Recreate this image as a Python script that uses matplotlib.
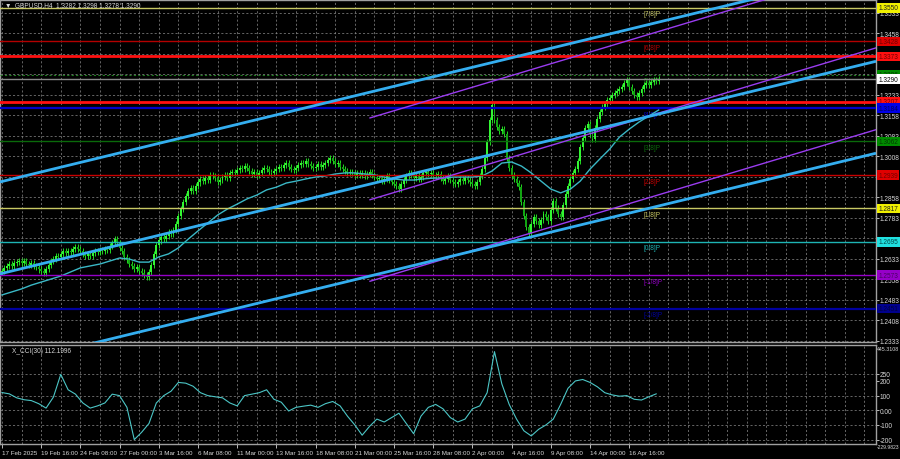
import numpy as np
import matplotlib.pyplot as plt

plt.rcParams['font.family'] = ['Liberation Sans', 'DejaVu Sans']

# GBPUSD H4 closes, 17 Feb 2025 -> 17 Apr 2025 (one row = 16 bars)
closes = [
    1.2590, 1.2598, 1.2605, 1.2614, 1.2608, 1.2618, 1.2622, 1.2626, 1.2619, 1.2624, 1.2615, 1.2610, 1.2616, 1.2606, 1.2603, 1.2594,
    1.2588, 1.2580, 1.2597, 1.2612, 1.2626, 1.2634, 1.2645, 1.2640, 1.2652, 1.2660, 1.2655, 1.2663, 1.2658, 1.2668, 1.2676, 1.2670,
    1.2660, 1.2652, 1.2645, 1.2650, 1.2642, 1.2655, 1.2662, 1.2658, 1.2667, 1.2660, 1.2670, 1.2665, 1.2680, 1.2692, 1.2705, 1.2690,
    1.2672, 1.2660, 1.2640, 1.2628, 1.2615, 1.2608, 1.2596, 1.2602, 1.2590, 1.2583, 1.2575, 1.2568, 1.2585, 1.2610, 1.2650, 1.2685,
    1.2700, 1.2712, 1.2705, 1.2718, 1.2730, 1.2725, 1.2738, 1.2760, 1.2790, 1.2815, 1.2840, 1.2862, 1.2880, 1.2892, 1.2880, 1.2900,
    1.2912, 1.2925, 1.2918, 1.2930, 1.2922, 1.2940, 1.2935, 1.2928, 1.2915, 1.2920, 1.2932, 1.2940, 1.2930, 1.2945, 1.2952, 1.2948,
    1.2958, 1.2965, 1.2960, 1.2972, 1.2966, 1.2955, 1.2942, 1.2950, 1.2938, 1.2945, 1.2958, 1.2965, 1.2960, 1.2952, 1.2948, 1.2955,
    1.2962, 1.2970, 1.2965, 1.2975, 1.2982, 1.2970, 1.2962, 1.2958, 1.2966, 1.2975, 1.2985, 1.2978, 1.2990, 1.2980, 1.2972, 1.2965,
    1.2970, 1.2978, 1.2968, 1.2975, 1.2985, 1.2995, 1.3002, 1.2990, 1.2978, 1.2985, 1.2970, 1.2962, 1.2955, 1.2948, 1.2952, 1.2945,
    1.2940, 1.2948, 1.2938, 1.2945, 1.2935, 1.2942, 1.2950, 1.2940, 1.2932, 1.2925, 1.2930, 1.2918, 1.2926, 1.2935, 1.2922, 1.2915,
    1.2905, 1.2898, 1.2890, 1.2905, 1.2920, 1.2935, 1.2945, 1.2940, 1.2930, 1.2938, 1.2925, 1.2932, 1.2945, 1.2950, 1.2942, 1.2948,
    1.2940, 1.2935, 1.2942, 1.2930, 1.2918, 1.2925, 1.2935, 1.2920, 1.2912, 1.2905, 1.2915, 1.2925, 1.2918, 1.2930, 1.2922, 1.2912,
    1.2905, 1.2900, 1.2915, 1.2935, 1.2960, 1.3000, 1.3060, 1.3140, 1.3195, 1.3140, 1.3115, 1.3100, 1.3108, 1.3090, 1.3000, 1.2965,
    1.2940, 1.2925, 1.2910, 1.2895, 1.2840, 1.2790, 1.2750, 1.2728, 1.2760, 1.2785, 1.2770, 1.2755, 1.2775, 1.2798, 1.2785, 1.2770,
    1.2810, 1.2845, 1.2820, 1.2798, 1.2785, 1.2830, 1.2870, 1.2900, 1.2925, 1.2945, 1.2960, 1.2990, 1.3040, 1.3075, 1.3110, 1.3125,
    1.3090, 1.3070, 1.3110, 1.3145, 1.3170, 1.3188, 1.3200, 1.3212, 1.3220, 1.3230, 1.3238, 1.3245, 1.3255, 1.3262, 1.3275, 1.3285,
    1.3260, 1.3245, 1.3232, 1.3225, 1.3240, 1.3255, 1.3268, 1.3275, 1.3270, 1.3280, 1.3285, 1.3282, 1.3290,
]
first_open = 1.2585

# moving average, read every 4 bars
ma_step = 4
ma_vals = [
    1.2501, 1.2512, 1.2523, 1.2537, 1.2548, 1.2559, 1.2570, 1.2585, 1.2600, 1.2607, 1.2614, 1.2625,
    1.2636, 1.2632, 1.2621, 1.2621, 1.2640, 1.2651, 1.2673, 1.2705, 1.2735, 1.2764, 1.2793, 1.2815,
    1.2833, 1.2852, 1.2866, 1.2885, 1.2895, 1.2910, 1.2917, 1.2925, 1.2932, 1.2936, 1.2943, 1.2947,
    1.2947, 1.2943, 1.2940, 1.2932, 1.2925, 1.2921, 1.2921, 1.2925, 1.2928, 1.2928, 1.2932, 1.2932,
    1.2932, 1.2936, 1.2954, 1.2983, 1.2987, 1.2972, 1.2947, 1.2917, 1.2888, 1.2874, 1.2888, 1.2917,
    1.2961, 1.2998, 1.3034, 1.3078, 1.3107, 1.3133, 1.3155, 1.3177,
]

# X_CCI(30), read every 3 bars
cci_step = 3
cci_vals = [
    121, 112, 85, 72, 66, 45, 15, 90, 245, 140, 110, 50, 15, 30, 50, 110, 100, 20, -200, -150,
    -90, 50, 100, 130, 190, 185, 164, 120, 100, 92, 85, 50, 30, 100, 110, 120, 140, 75, 55, -5,
    20, 28, 35, 20, 45, 60, 30, -40, -100, -170, -110, -60, -80, -50, -20, -90, -160, -40, 20, 40,
    10, -50, -80, -60, 10, 30, 120, 400, 180, 40, -60, -140, -175, -130, -100, -60, 40, 150, 200, 210,
    190, 160, 120, 105, 96, 100, 75, 70, 92, 112,
]

# regression channels: price at left edge / right edge of the chart
chan_bars = [-0.8, 356.7]
cyan_upper = [1.2914, 1.3691]
cyan_mid = [1.2578, 1.3355]
cyan_lower = [1.2242, 1.3019]
purple_bars = [150.2, 356.7]
purple_upper = [1.3148, 1.3702]
purple_mid = [1.2849, 1.3404]
purple_lower = [1.2551, 1.3105]

# Murray levels
murray_names = ['[7/8]P', '[6/8]P', '[5/8]P', '[4/8]P', '[3/8]P', '[2/8]P', '[1/8]P', '[0/8]P', '[-1/8]P', '[-2/8]P']
murray_levels = [1.3550, 1.3428, 1.3306, 1.3184, 1.3062, 1.2939, 1.2817, 1.2695, 1.2573, 1.2451]
murray_colors = ['#c8c864', '#b40000', '#1e7a1e', '#0000c8', '#0a6a0a', '#c80000', '#c8c864', '#1eb4b4', '#9600c8', '#0000a0']
murray_widths = [1.0, 1.0, 0.8, 1.6, 1.0, 1.0, 1.0, 1.0, 1.0, 1.6]
support_levels = [1.3373, 1.3207]
current_price = 1.3290

price_ticks = [1.3533, 1.3458, 1.3383, 1.3308, 1.3233, 1.3158, 1.3083, 1.3008, 1.2933,
               1.2858, 1.2783, 1.2708, 1.2633, 1.2558, 1.2483, 1.2408, 1.2333]
time_labels = ['17 Feb 2025', '19 Feb 16:00', '24 Feb 08:00', '27 Feb 00:00', '3 Mar 16:00',
               '6 Mar 08:00', '11 Mar 00:00', '13 Mar 16:00', '18 Mar 08:00', '21 Mar 00:00',
               '25 Mar 16:00', '28 Mar 08:00', '2 Apr 00:00', '4 Apr 16:00', '9 Apr 08:00',
               '14 Apr 00:00', '16 Apr 16:00']

# right-hand price boxes
box_prices = [1.3550, 1.3428, 1.3373, 1.3306, 1.3290, 1.3207, 1.3184, 1.3062, 1.2939, 1.2817, 1.2695, 1.2573, 1.2451]
box_colors = ['#f0f000', '#e00000', '#ff1010', '#008c00', '#ffffff', '#ff1010', '#0000e6', '#008c00',
              '#e00000', '#f0f000', '#20e0e0', '#9600c8', '#00008c']
box_text = ['#202020', '#700000', '#700000', '#003a00', '#000000', '#700000', '#00005a', '#003a00',
            '#700000', '#202020', '#004848', '#4a0064', '#000040']

W, H = 900, 460
BG = 'black'
GRID = '#8c8c8c'
TXT = '#d8d8d8'
FS = 4.7
WICK = 0.0011
XMIN, XMAX = -0.8, 356.7
YMIN, YMAX = 1.2329, 1.3579

fig = plt.figure(figsize=(9, 4.6), dpi=100, facecolor=BG)


def px_axes(left, top, right, bottom):
    return fig.add_axes([left / W, 1 - bottom / H, (right - left) / W, (bottom - top) / H])


ax = px_axes(0, 1, 876, 343)
axc = px_axes(0, 346, 876, 445)

for a in (ax, axc):
    a.set_facecolor(BG)
    a.set_xlim(XMIN, XMAX)
    for s in a.spines.values():
        s.set_color('#a0a0a0')
        s.set_linewidth(1.0)
    for b in np.arange(0, XMAX, 8):
        a.axvline(b, color=GRID, lw=0.5, ls=(0, (3, 3)), zorder=0.5)

# ---- main price panel
ax.set_ylim(YMIN, YMAX)
px_per_price = 342 / (YMAX - YMIN)
# tick labels that sit right under a coloured box are hidden, like on the terminal
shown = [p for p in price_ticks if min(abs(p - b) for b in box_prices) * px_per_price > 3.9]
ax.yaxis.tick_right()
ax.set_yticks(price_ticks)
ax.set_yticklabels([f'{p:.4f}' if p in shown else '' for p in price_ticks])
ax.tick_params(axis='y', colors=TXT, labelsize=FS, length=2, pad=0.6, width=0.6)
ax.set_xticks([])
for p in price_ticks:
    ax.axhline(p, color=GRID, lw=0.5, ls=(0, (3, 3)), zorder=0.5)

# candles
c = np.array(closes)
o = np.r_[first_open, c[:-1]]
x = np.arange(len(c))
lo_b = np.minimum(o, c)
hi_b = np.maximum(o, c)
h_b = np.maximum(hi_b - lo_b, 0.00015)
up = c >= o
ax.vlines(x, lo_b - WICK, hi_b + WICK, color='#22d822', lw=0.7, zorder=2)
ax.bar(x[up], h_b[up], bottom=lo_b[up], width=0.8, color='#33f533', lw=0, zorder=2.1)
ax.bar(x[~up], h_b[~up], bottom=lo_b[~up], width=0.8, color='#12a412', lw=0, zorder=2.1)

# moving average
ax.plot(np.arange(len(ma_vals)) * ma_step, ma_vals, color='#3ab8c6', lw=1.0, zorder=3)

# horizontal levels
for name, lev, col, lw in zip(murray_names, murray_levels, murray_colors, murray_widths):
    ls = (0, (2, 2)) if name == '[5/8]P' else '-'
    ax.axhline(lev, color=col, lw=lw, ls=ls, zorder=3)
    ax.text(262, lev - 0.0009, name, color=col, fontsize=FS, va='top', ha='left', zorder=1)
for lev in support_levels:
    ax.axhline(lev, color='#ff1010', lw=2.0, zorder=3.2)
ax.axhline(current_price, color='#8a8a8a', lw=1.0, zorder=3)

# channels
for ys in (cyan_upper, cyan_mid, cyan_lower):
    ax.plot(chan_bars, ys, color='#34aef0', lw=2.0, zorder=4, solid_capstyle='butt')
for ys in (purple_upper, purple_mid, purple_lower):
    ax.plot(purple_bars, ys, color='#9a3cf0', lw=1.0, zorder=3.8)

ytr = ax.get_yaxis_transform()
for p, bc, tc in zip(box_prices, box_colors, box_text):
    ax.text(1.0 + 2.5 / 876, p, f'{p:.4f}', transform=ytr, fontsize=FS, color=tc, va='center', ha='left',
            clip_on=False, zorder=10,
            bbox=dict(boxstyle='square,pad=0.2', fc=bc, ec='none'))

fig.text(5 / W, 1 - 6 / H, '\u25bc  GBPUSD,H4  1.3282 1.3298 1.3278 1.3290', color=TXT, fontsize=FS,
         va='center', ha='left')

# ---- CCI panel
axc.set_ylim(-230, 445.31)
axc.yaxis.tick_right()
cci_ticks = [250, 200, 100, 0, -100, -200]
axc.set_yticks(cci_ticks)
axc.set_yticklabels(['250', '200', '100', '0.00', '-100', '-200'])
axc.tick_params(axis='y', colors=TXT, labelsize=FS, length=2, pad=0.6, width=0.6)
for lv in (250, 100, 0, -100, -200):
    axc.axhline(lv, color=GRID, lw=0.5, ls=(0, (3, 3)), zorder=0.5)
axc.plot(np.arange(len(cci_vals)) * cci_step, cci_vals, color='#4cc6c6', lw=0.8, zorder=3)
axc.text(1.0 + 1.0 / 876, 0.985, '445.3108', transform=axc.transAxes, color=TXT, fontsize=3.8,
         va='top', ha='left', clip_on=False)
axc.text(1.0 + 1.0 / 876, 0.0, '-229.9823', transform=axc.transAxes, color=TXT, fontsize=3.6,
         va='top', ha='left', clip_on=False)
axc.text(4, 410, 'X_CCI(30) 112.1996', color=TXT, fontsize=FS, va='center', ha='left')

axc.set_xticks(np.arange(len(time_labels)) * 16)
axc.set_xticklabels(time_labels)
axc.tick_params(axis='x', colors=TXT, labelsize=4.5, length=3, pad=1.5, width=0.6)
for lbl in axc.get_xticklabels():
    lbl.set_horizontalalignment('left')

fig.savefig('out.png', dpi=100, facecolor=BG)
